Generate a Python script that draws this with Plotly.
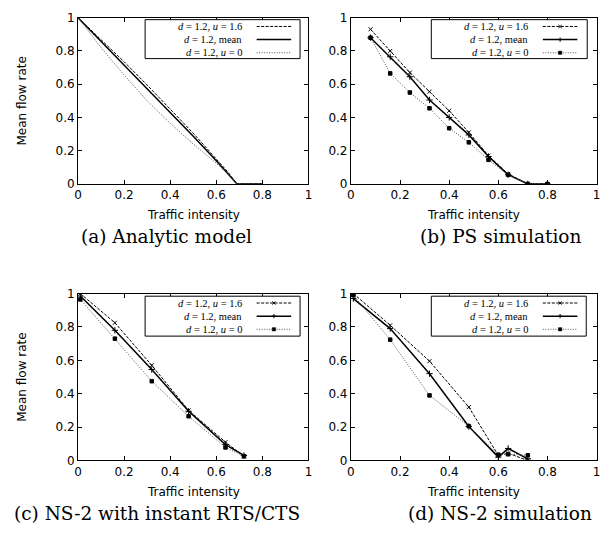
import plotly.graph_objects as go

W, H = 609, 533

# ---------------- data ----------------
# (a) Analytic model
a_x = [0.0, 0.1, 0.2, 0.3, 0.4, 0.5, 0.6, 0.65, 0.69, 0.8]
a_u16 = [1.0, 0.87, 0.735, 0.595, 0.45, 0.305, 0.15, 0.072, 0.0, 0.0]
a_mean = [1.0, 0.858, 0.713, 0.57, 0.428, 0.287, 0.14, 0.065, 0.0, 0.0]
a_u0 = [1.0, 0.82, 0.655, 0.50, 0.365, 0.24, 0.125, 0.06, 0.0, 0.0]

# (b) PS simulation
b_x = [0.08, 0.16, 0.24, 0.32, 0.40, 0.48, 0.56, 0.64, 0.72, 0.80]
b_u16 = [0.93, 0.80, 0.67, 0.555, 0.44, 0.31, 0.17, 0.06, 0.0, 0.0]
b_mean = [0.88, 0.765, 0.645, 0.505, 0.40, 0.295, 0.165, 0.055, 0.0, 0.0]
b_u0 = [0.88, 0.665, 0.55, 0.455, 0.335, 0.25, 0.145, 0.055, 0.0, 0.0]

# (c) NS-2 with instant RTS/CTS
c_x = [0.01, 0.16, 0.32, 0.48, 0.64, 0.72]
c_u16 = [1.0, 0.825, 0.57, 0.30, 0.11, 0.025]
c_mean = [0.985, 0.78, 0.545, 0.295, 0.095, 0.03]
c_u0 = [0.965, 0.73, 0.475, 0.265, 0.078, 0.025]

# (d) NS-2 simulation
d_x = [0.01, 0.16, 0.32, 0.48, 0.60, 0.64, 0.72]
d_u16 = [1.0, 0.81, 0.595, 0.32, 0.03, 0.043, 0.0]
d_mean = [0.97, 0.79, 0.52, 0.204, 0.02, 0.072, 0.01]
d_u0 = [0.99, 0.724, 0.39, 0.205, 0.035, 0.037, 0.031]

tick_vals = [0, 0.2, 0.4, 0.6, 0.8, 1]
tick_text = ["0", "0.2", "0.4", "0.6", "0.8", "1"]
series_labels = ["<i>d</i> = 1.2, <i>u</i> = 1.6", "<i>d</i> = 1.2, mean", "<i>d</i> = 1.2, <i>u</i> = 0"]
captions = ["(a) Analytic model", "(b) PS simulation", "(c) NS-2 with instant RTS/CTS", "(d) NS-2 simulation"]
x_title = "Traffic intensity"
y_title = "Mean flow rate"

# ---------------- layout helpers ----------------
def px(x):
    return x / W

def py(y):
    return 1 - y / H

panels = [
    dict(x0=75, x1=308.5, y0=11, y1=181.7, cap_x=165, leg=(143, 13, 300, 53), data=(a_x, a_u16, a_mean, a_u0), markers=False, ytitle=True),
    dict(x0=351.5, x1=600.5, y0=11, y1=181.7, cap_x=503, leg=(433, 13, 591, 53), data=(b_x, b_u16, b_mean, b_u0), markers=True, ytitle=False),
    dict(x0=75, x1=308.5, y0=294.3, y1=465.7, cap_x=155, leg=(143, 297, 300, 338), data=(c_x, c_u16, c_mean, c_u0), markers=True, ytitle=True),
    dict(x0=351.5, x1=600.5, y0=294.3, y1=465.7, cap_x=503, leg=(433, 297, 590, 338), data=(d_x, d_u16, d_mean, d_u0), markers=True, ytitle=False),
]

styles = [
    dict(color="black", width=1, dash="3px,1.5px", symbol="x-thin-open", size=4),
    dict(color="black", width=1.5, dash="solid", symbol="cross-thin-open", size=4.5),
    dict(color="#555555", width=1, dash="1px,1.5px", symbol="square", size=3.5),
]

fig = go.Figure()
annotations = []
shapes = []
sans = "DejaVu Sans, Liberation Sans, Arial, sans-serif"
tick_font = dict(family=sans, size=12, color="black")

for i, p in enumerate(panels):
    k = "" if i == 0 else str(i + 1)
    xa, ya = "x" + k, "y" + k
    xs, *ys = p["data"]
    for s, yv in zip(styles, ys):
        mk = dict(symbol=s["symbol"], size=s["size"], color="black", line=dict(color="black", width=1))
        fig.add_trace(go.Scatter(
            x=xs, y=yv, mode="lines+markers" if p["markers"] else "lines",
            line=dict(color=s["color"], width=s["width"], dash=s["dash"]),
            marker=mk, xaxis=xa, yaxis=ya, showlegend=False, hoverinfo="skip"))
    axcommon = dict(range=[0, 1], tickvals=tick_vals, ticktext=tick_text, ticks="inside",
                    ticklen=4, tickwidth=1, tickcolor="black", showline=True, linecolor="black",
                    linewidth=1, mirror="ticks", showgrid=False, zeroline=False,
                    tickfont=tick_font, fixedrange=True)
    fig.update_layout(**{
        "xaxis" + k: dict(domain=[px(p["x0"]), px(p["x1"])], anchor=ya, **axcommon),
        "yaxis" + k: dict(domain=[py(p["y1"]), py(p["y0"])], anchor=xa, **axcommon),
    })
    cx = (p["x0"] + p["x1"]) / 2
    annotations.append(dict(text=x_title, x=px(cx), y=py(p["y1"] + 32), xref="paper", yref="paper",
                            showarrow=False, font=dict(family=sans, size=12, color="black"),
                            xanchor="center", yanchor="middle"))
    annotations.append(dict(text=captions[i], x=px(p["cap_x"]), y=py(p["y1"] + 54), xref="paper", yref="paper",
                            showarrow=False, font=dict(family="DejaVu Serif, serif", size=18.5, color="black"),
                            xanchor="center", yanchor="middle"))
    if p["ytitle"]:
        annotations.append(dict(text=y_title, x=px(18), y=py((p["y0"] + p["y1"]) / 2), xref="paper", yref="paper",
                                showarrow=False, textangle=-90,
                                font=dict(family=sans, size=12, color="black"),
                                xanchor="center", yanchor="middle"))
    # legend box
    lx0, ly0, lx1, ly1 = p["leg"]
    shapes.append(dict(type="rect", xref="paper", yref="paper", x0=px(lx0), x1=px(lx1), y0=py(ly1), y1=py(ly0),
                       line=dict(color="black", width=1), fillcolor="white", layer="above"))
    rows = [ly0 + 7, ly0 + 20.5, ly0 + 34]
    for j, (s, lab) in enumerate(zip(styles, series_labels)):
        ry = rows[j]
        annotations.append(dict(text=lab, x=px(lx0 + 100), y=py(ry), xref="paper", yref="paper", showarrow=False,
                                xanchor="right", yanchor="middle",
                                font=dict(family="Liberation Serif, serif", size=10.5, color="black")))
        sx0, sx1 = lx0 + 113, lx0 + 148
        shapes.append(dict(type="line", xref="paper", yref="paper", x0=px(sx0), x1=px(sx1), y0=py(ry), y1=py(ry),
                           line=dict(color=s["color"], width=s["width"], dash=s["dash"]),
                           layer="above"))
        if p["markers"]:
            mx = (sx0 + sx1) / 2
            if j == 0:
                for dy in (-1.6, 1.6):
                    shapes.append(dict(type="line", xref="paper", yref="paper", x0=px(mx - 1.6), x1=px(mx + 1.6),
                                       y0=py(ry - dy), y1=py(ry + dy), line=dict(color="black", width=1), layer="above"))
            elif j == 1:
                shapes.append(dict(type="line", xref="paper", yref="paper", x0=px(mx - 2.2), x1=px(mx + 2.2),
                                   y0=py(ry), y1=py(ry), line=dict(color="black", width=1), layer="above"))
                shapes.append(dict(type="line", xref="paper", yref="paper", x0=px(mx), x1=px(mx),
                                   y0=py(ry - 2.2), y1=py(ry + 2.2), line=dict(color="black", width=1), layer="above"))
            else:
                shapes.append(dict(type="rect", xref="paper", yref="paper", x0=px(mx - 1.7), x1=px(mx + 1.7),
                                   y0=py(ry + 1.7), y1=py(ry - 1.7), line=dict(color="black", width=0.5),
                                   fillcolor="black", layer="above"))

fig.update_layout(width=W, height=H, margin=dict(l=0, r=0, t=0, b=0), paper_bgcolor="white",
                  plot_bgcolor="white", annotations=annotations, shapes=shapes, showlegend=False)
fig.write_html("out.html", config={"displayModeBar": False, "staticPlot": True},
               post_script="document.body.style.margin='0';document.body.style.overflow='hidden';")
